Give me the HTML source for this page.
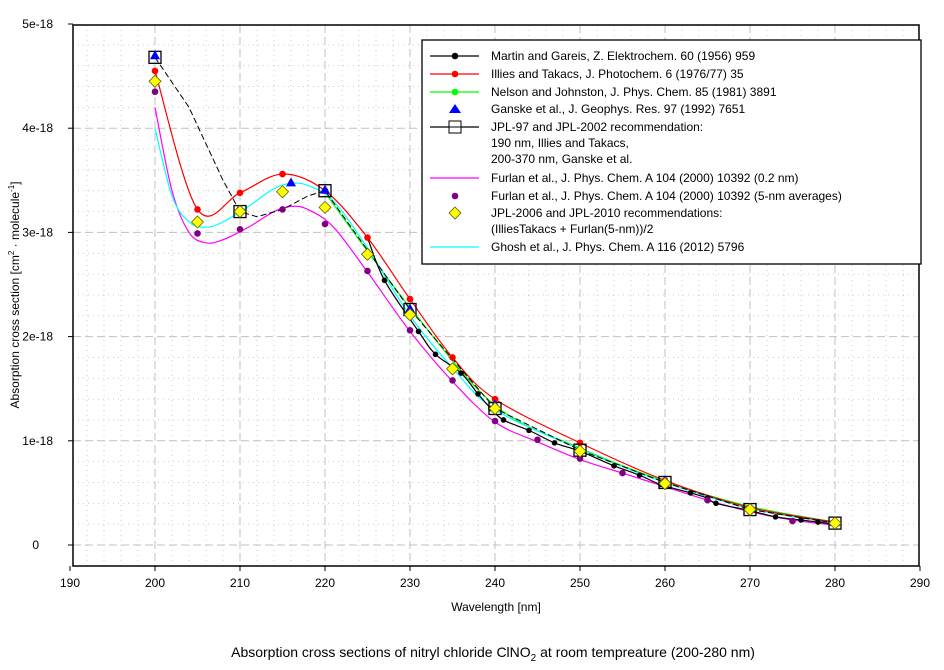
<!DOCTYPE html>
<html><head><meta charset="utf-8"><style>
html,body{margin:0;padding:0;background:#fff;}
svg{display:block;font-family:"Liberation Sans",Arial,sans-serif;}
</style></head><body>
<svg id="s" width="944" height="670" xmlns="http://www.w3.org/2000/svg">
<rect width="944" height="670" fill="#fff"/>
<g id="grid"></g>
<g id="series"></g>
<rect x="73" y="25" width="846" height="541" fill="none" stroke="#000" stroke-width="1.5"/>
<g id="ticks" font-size="12"></g>
<text x="496" y="611" font-size="12" text-anchor="middle">Wavelength [nm]</text>
<text transform="translate(19,295) rotate(-90)" font-size="12" text-anchor="middle">Absorption cross section [cm<tspan dy="-5" font-size="8">2</tspan><tspan dy="5"> · molecule</tspan><tspan dy="-5" font-size="8">-1</tspan><tspan dy="5">]</tspan></text>
<text x="493" y="657" font-size="14" text-anchor="middle">Absorption cross sections of nitryl chloride ClNO<tspan dy="4" font-size="10">2</tspan><tspan dy="-4"> at room tempreature (200-280 nm)</tspan></text>
<g id="legend"></g>
</svg>
<script>
const NS="http://www.w3.org/2000/svg";
const X=w=>70+(w-190)*8.5, Y=v=>545-v*104.2;
function el(p,t,a,txt){const e=document.createElementNS(NS,t);for(const k in a)e.setAttribute(k,a[k]);if(txt!=null)e.textContent=txt;document.getElementById(p).appendChild(e);return e;}
for(let w=192;w<290;w+=2){const maj=(w%10===0);el('grid','line',{x1:X(w),x2:X(w),y1:25,y2:566,stroke:maj?'#c0c0c0':'#cccccc','stroke-width':1,'stroke-dasharray':maj?'8,4':'1,4'});}
for(let i=-1;i<25;i++){const v=i*0.2;const y=Y(v);if(y<26||y>565)continue;const maj=(i%5===0);el('grid','line',{x1:73,x2:919,y1:y,y2:y,stroke:maj?'#c0c0c0':'#cccccc','stroke-width':1,'stroke-dasharray':maj?'8,4':'1,4'});}
for(let w=190;w<=290;w+=10){el('ticks','line',{x1:X(w),x2:X(w),y1:566,y2:571,stroke:'#000'});el('ticks','text',{x:X(w),y:587,'text-anchor':'middle'},w);}
const yl=['0','1e-18','2e-18','3e-18','4e-18','5e-18'];
for(let i=0;i<=5;i++){el('ticks','line',{x1:68,x2:73,y1:Y(i),y2:Y(i),stroke:'#000'});el('ticks','text',{x:i?53:39,y:Y(i)+4,'text-anchor':'end'},yl[i]);}
function smooth(pts){let d='M'+X(pts[0][0])+','+Y(pts[0][1]);const P=pts.map(p=>[X(p[0]),Y(p[1])]);
for(let i=0;i<P.length-1;i++){const p0=P[i-1]||P[i],p1=P[i],p2=P[i+1],p3=P[i+2]||P[i+1];
const c1=[p1[0]+(p2[0]-p0[0])/6,p1[1]+(p2[1]-p0[1])/6],c2=[p2[0]-(p3[0]-p1[0])/6,p2[1]-(p3[1]-p1[1])/6];
d+=`C${c1[0]},${c1[1]} ${c2[0]},${c2[1]} ${p2[0]},${p2[1]}`;}return d;}
function line(pts,c,extra){el('series','path',Object.assign({d:smooth(pts),fill:'none',stroke:c,'stroke-width':1.2},extra||{}));}
function dots(pts,c,r){pts.forEach(p=>el('series','circle',{cx:X(p[0]),cy:Y(p[1]),r:r||3,fill:c}));}
const red=[[200,4.55],[205,3.22],[210,3.38],[215,3.56],[220,3.40],[225,2.95],[230,2.36],[235,1.80],[240,1.40],[250,0.98],[260,0.62],[270,0.36],[280,0.22]];
const purple=[[200,4.35],[205,2.99],[210,3.03],[215,3.22],[220,3.08],[225,2.63],[230,2.06],[235,1.58],[240,1.19],[245,1.01],[250,0.83],[255,0.69],[260,0.57],[265,0.43],[270,0.32],[275,0.23],[280,0.20]];
const yellow=[[200,4.45],[205,3.10],[210,3.20],[215,3.39],[220,3.24],[225,2.79],[230,2.21],[235,1.69],[240,1.31],[250,0.90],[260,0.59],[270,0.34],[280,0.21]];
const jpl=[[200,4.68],[210,3.20],[220,3.40],[230,2.26],[240,1.31],[250,0.91],[260,0.60],[270,0.34],[280,0.21]];
const blue=[[200,4.70],[216,3.48],[220,3.41],[230,2.27],[240,1.35],[250,0.92],[260,0.62],[270,0.36],[280,0.22]];
const martin=[[225,2.95],[227,2.54],[231,2.05],[233,1.83],[236,1.65],[238,1.45],[239.5,1.31],[241,1.2],[244,1.1],[247,0.98],[250,0.9],[254,0.76],[257,0.67],[259.5,0.58],[263,0.50],[265,0.45],[266,0.40],[270,0.33],[273,0.27],[276,0.24],[278,0.22],[280,0.20]];
const green=[[220,3.38],[230,2.28],[240,1.34],[250,0.93],[260,0.61],[270,0.37],[280,0.22]];
const magenta=[[200,4.2],[202,3.4],[204,3.0],[206,2.9],[208,2.93],[211,3.05],[214,3.2],[216,3.25],[218,3.22],[221,3.05],[225,2.62],[230,2.05],[235,1.57],[240,1.18],[245,0.99],[250,0.82],[255,0.69],[260,0.56],[265,0.43],[270,0.32],[275,0.24],[280,0.19]];
const cyan=[[200,4.0],[202,3.35],[204,3.1],[206,3.05],[208,3.1],[211,3.25],[214,3.42],[216,3.47],[218,3.45],[221,3.3],[225,2.85],[230,2.2],[235,1.7],[240,1.3],[250,0.92],[260,0.6],[270,0.35],[280,0.21]];
line(green,'#00ff00');
line(magenta,'#ff00ff');
line(cyan,'#00ffff');
line(red,'#ff0000');
line(martin,'#000');
el('series','path',{d:`M${X(200)},${Y(4.68)} L${X(204)},${Y(4.2)} L${X(208)},${Y(3.5)} L${X(210)},${Y(3.2)} L${X(212)},${Y(3.15)} L${X(215)},${Y(3.22)} L${X(218)},${Y(3.35)} L${X(220)},${Y(3.40)} L${X(230)},${Y(2.26)} L${X(240)},${Y(1.31)} L${X(250)},${Y(0.91)} L${X(260)},${Y(0.60)} L${X(270)},${Y(0.34)} L${X(280)},${Y(0.21)}`,fill:'none',stroke:'#000','stroke-width':1,'stroke-dasharray':'6,3'});
dots(martin.slice(1),'#000',2.8);
dots(red,'#ff0000',3.3);
dots(purple,'#800080',3.3);
jpl.forEach(p=>el('series','rect',{x:X(p[0])-6,y:Y(p[1])-6,width:12,height:12,fill:'none',stroke:'#000','stroke-width':1.3}));
blue.forEach(p=>{const x=X(p[0]),y=Y(p[1]);el('series','polygon',{points:`${x-5},${y+4} ${x+5},${y+4} ${x},${y-5}`,fill:'#0000ff'});});
yellow.forEach(p=>{const x=X(p[0]),y=Y(p[1]);el('series','polygon',{points:`${x},${y-6} ${x+6},${y} ${x},${y+6} ${x-6},${y}`,fill:'#ffff00',stroke:'#606000','stroke-width':0.8});});
el('legend','rect',{x:422,y:40,width:499,height:224,fill:'#fff',stroke:'#000','stroke-width':1.3});
const L=[[56,'line','#000',['Martin and Gareis, Z. Elektrochem. 60 (1956) 959'],'dot'],
[74,'line','#ff0000',['Illies and Takacs, J. Photochem. 6 (1976/77) 35'],'dot'],
[92,'line','#00ff00',['Nelson and Johnston, J. Phys. Chem. 85 (1981) 3891'],'dot'],
[109,null,'#0000ff',['Ganske et al., J. Geophys. Res. 97 (1992) 7651'],'tri'],
[127,'line','#000',['JPL-97 and JPL-2002 recommendation:','190 nm, Illies and Takacs,','200-370 nm, Ganske et al.'],'sq'],
[178,'line','#ff00ff',['Furlan et al., J. Phys. Chem. A 104 (2000) 10392 (0.2 nm)'],null],
[196,null,'#800080',['Furlan et al., J. Phys. Chem. A 104 (2000) 10392 (5-nm averages)'],'dot'],
[213,null,'#ffff00',['JPL-2006 and JPL-2010 recommendations:','(IlliesTakacs + Furlan(5-nm))/2'],'dia'],
[247,'line','#00ffff',['Ghosh et al., J. Phys. Chem. A 116 (2012) 5796'],null]];
L.forEach(([y,ln,c,txt,m])=>{
 if(ln){el('legend','line',{x1:430,x2:479,y1:y,y2:y,stroke:c,'stroke-width':1.2});}
 if(m==='dot')el('legend','circle',{cx:455,cy:y,r:3.3,fill:c});
 if(m==='tri')el('legend','polygon',{points:`449,${y+4} 461,${y+4} 455,${y-5}`,fill:c});
 if(m==='sq'){el('legend','rect',{x:449,y:y-6,width:12,height:12,fill:'#fff',stroke:'#000'});el('legend','line',{x1:449,x2:461,y1:y,y2:y,stroke:'#000'});}
 if(m==='dia')el('legend','polygon',{points:`455,${y-6} 461,${y} 455,${y+6} 449,${y}`,fill:c,stroke:'#606000','stroke-width':0.8});
 txt.forEach((t,i)=>el('legend','text',{x:491,y:y+4+i*16,'font-size':12},t));
});
</script>
</body></html>
